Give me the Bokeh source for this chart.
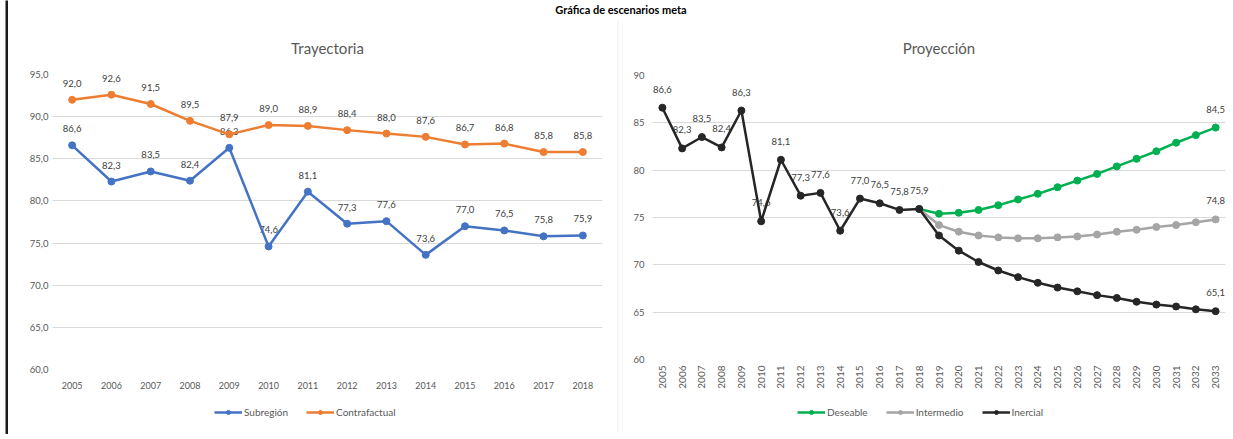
import math
from bokeh.plotting import figure
from bokeh.models import Range1d, FactorRange, FixedTicker, Legend, LegendItem, ColumnDataSource
from bokeh.layouts import column, row
from bokeh.embed import file_html
from bokeh.resources import INLINE
from bokeh.core.properties import value

# ---------------- data ----------------
years_hist = [str(y) for y in range(2005, 2019)]
subregion = [86.6, 82.3, 83.5, 82.4, 86.3, 74.6, 81.1, 77.3, 77.6, 73.6, 77.0, 76.5, 75.8, 75.9]
contrafactual = [92.0, 92.6, 91.5, 89.5, 87.9, 89.0, 88.9, 88.4, 88.0, 87.6, 86.7, 86.8, 85.8, 85.8]

years_all = [str(y) for y in range(2005, 2034)]
inercial = [86.6, 82.3, 83.5, 82.4, 86.3, 74.6, 81.1, 77.3, 77.6, 73.6, 77.0, 76.5, 75.8, 75.9,
            73.1, 71.5, 70.3, 69.4, 68.7, 68.1, 67.6, 67.2, 66.8, 66.5, 66.1, 65.8, 65.6, 65.3, 65.1]
years_proj = [str(y) for y in range(2018, 2034)]
deseable = [75.9, 75.4, 75.5, 75.8, 76.3, 76.9, 77.5, 78.2, 78.9, 79.6, 80.4, 81.2, 82.0, 82.9, 83.7, 84.5]
intermedio = [75.9, 74.2, 73.5, 73.1, 72.9, 72.8, 72.8, 72.9, 73.0, 73.2, 73.5, 73.7, 74.0, 74.2, 74.5, 74.8]

left_ticks = [60, 65, 70, 75, 80, 85, 90, 95]
right_ticks = [60, 65, 70, 75, 80, 85, 90]

title_main = "Gráfica de escenarios meta"
title_left = "Trayectoria"
title_right = "Proyección"

FONT = "Lato"
BLUE = "#4472C4"
ORANGE = "#ED7D31"
GREEN = "#00B050"
GREY = "#A5A5A5"
BLACK = "#262626"
TXT = "#595959"
LBL = "#404040"
FRAME_GREY = "#d9d9d9"


def fmt(v):
    return f"{v:.1f}".replace(".", ",")


def blank(width, height, **kw):
    f = figure(width=width, height=height, x_range=Range1d(0, 1), y_range=Range1d(0, 1),
               output_backend="svg", toolbar_location=None, x_axis_location=None,
               y_axis_location=None, min_border=0, **kw)
    f.grid.grid_line_color = None
    f.outline_line_color = None
    return f


def style(p, ticks, labels, standoff, tick_size="9px"):
    p.outline_line_color = None
    p.xgrid.grid_line_color = None
    p.ygrid.grid_line_color = FRAME_GREY
    p.ygrid.grid_line_width = 1
    p.yaxis.ticker = FixedTicker(ticks=ticks)
    p.yaxis.major_label_overrides = {t: l for t, l in zip(ticks, labels)}
    for ax in (p.xaxis[0], p.yaxis[0]):
        ax.axis_line_color = None
        ax.major_tick_line_color = None
        ax.minor_tick_line_color = None
        ax.major_tick_out = 0
        ax.major_tick_in = 0
        ax.major_label_text_font = FONT
        ax.major_label_text_color = TXT
    p.yaxis.major_label_text_font_size = "9.5px"
    p.xaxis.major_label_text_font_size = tick_size
    p.title.text_font = FONT
    p.title.text_font_size = "15px"
    p.title.text_font_style = "normal"
    p.title.text_color = TXT
    p.title.align = "center"
    p.title.vertical_align = "middle"
    p.title.standoff = standoff


def legend_fig(width, factors, specs, loc):
    # the legend lives in its own strip; the series are re-plotted far outside its view
    f = figure(width=width, height=37, x_range=FactorRange(*factors), y_range=Range1d(1000, 1001),
               output_backend="svg", toolbar_location=None, min_border=0,
               x_axis_location=None, y_axis_location=None)
    f.grid.grid_line_color = None
    f.outline_line_color = None
    items = []
    for label, color, src in specs:
        rl = f.line("x", "y", source=src, line_color=color, line_width=2.5)
        rs = f.scatter("x", "y", source=src, size=7, fill_color=color, line_color=color)
        items.append(LegendItem(label=label, renderers=[rl, rs]))
    leg = Legend(items=items, orientation="horizontal", location=loc, label_text_font=FONT,
                 label_text_font_size="10px", label_text_color=TXT, glyph_width=28, glyph_height=10,
                 spacing=18, padding=0, border_line_color=None, background_fill_alpha=0,
                 label_standoff=2)
    f.add_layout(leg)
    return f


# ---------------- frame pieces ----------------
black_bar = blank(8, 434, min_border_left=5, background_fill_color="#1a1a1a", border_fill_color="white")
sep = blank(6, 412, min_border_left=1, min_border_right=1, background_fill_color="white",
            border_fill_color=FRAME_GREY)
grey_top = blank(1225, 3, background_fill_color=FRAME_GREY, border_fill_color=FRAME_GREY)
grey_bottom = blank(1225, 2, background_fill_color=FRAME_GREY, border_fill_color=FRAME_GREY)

# ---------------- top strip ----------------
top = blank(1225, 17)
top.text(x=[0.5], y=[0.5], text=[title_main], text_align="center", text_baseline="middle",
         text_font=value(FONT), text_font_style="bold", text_font_size="11px", text_color="#000000")

# ---------------- left chart ----------------
left = figure(width=609, height=375, x_range=FactorRange(*years_hist, range_padding=0),
              y_range=Range1d(60, 95), output_backend="svg", toolbar_location=None,
              min_border_left=44, min_border_right=15, min_border_top=52, min_border_bottom=26,
              title=title_left)
style(left, left_ticks, [fmt(t) for t in left_ticks], 34)
left.xaxis.major_label_standoff = 12
left.yaxis.major_label_standoff = 4

src_s = ColumnDataSource(dict(x=years_hist, y=subregion, t=[fmt(v) for v in subregion]))
src_c = ColumnDataSource(dict(x=years_hist, y=contrafactual, t=[fmt(v) for v in contrafactual]))
for src in (src_s, src_c):
    left.text("x", "y", text="t", source=src, y_offset=-13, text_align="center", text_baseline="bottom",
              text_font=value(FONT), text_font_size="9.5px", text_color=LBL)
left.line("x", "y", source=src_s, line_color=BLUE, line_width=2.5)
left.scatter("x", "y", source=src_s, size=7, fill_color=BLUE, line_color=BLUE)
left.line("x", "y", source=src_c, line_color=ORANGE, line_width=2.5)
left.scatter("x", "y", source=src_c, size=7, fill_color=ORANGE, line_color=ORANGE)

leg_left = legend_fig(609, years_hist, [("Subregión", BLUE, src_s), ("Contrafactual", ORANGE, src_c)],
                      (162, 14))

# ---------------- right chart ----------------
right = figure(width=610, height=375, x_range=FactorRange(*years_all, range_padding=0),
               y_range=Range1d(60, 90), output_backend="svg", toolbar_location=None,
               min_border_left=29, min_border_right=8, min_border_top=53, min_border_bottom=36,
               title=title_right)
style(right, right_ticks, [str(t) for t in right_ticks], 35, tick_size="10px")
right.xaxis.major_label_orientation = math.pi / 2
right.xaxis.major_label_standoff = 6
right.yaxis.major_label_standoff = 8

src_d = ColumnDataSource(dict(x=years_proj, y=deseable))
src_m = ColumnDataSource(dict(x=years_proj, y=intermedio))
src_i = ColumnDataSource(dict(x=years_all, y=inercial))

lab_x = years_hist + [years_all[-1], years_proj[-1], years_proj[-1]]
lab_y = inercial[:len(years_hist)] + [inercial[-1], deseable[-1], intermedio[-1]]
src_lab = ColumnDataSource(dict(x=lab_x, y=lab_y, t=[fmt(v) for v in lab_y]))
right.text("x", "y", text="t", source=src_lab, y_offset=-15, text_align="center", text_baseline="bottom",
           text_font=value(FONT), text_font_size="9.5px", text_color=LBL)

right.line("x", "y", source=src_d, line_color=GREEN, line_width=2.5)
right.scatter("x", "y", source=src_d, size=7, fill_color=GREEN, line_color=GREEN)
right.line("x", "y", source=src_m, line_color=GREY, line_width=2.5)
right.scatter("x", "y", source=src_m, size=7, fill_color=GREY, line_color=GREY)
right.line("x", "y", source=src_i, line_color=BLACK, line_width=2.5)
right.scatter("x", "y", source=src_i, size=7, fill_color=BLACK, line_color=BLACK)

leg_right = legend_fig(610, years_all, [("Deseable", GREEN, src_d), ("Intermedio", GREY, src_m),
                                        ("Inercial", BLACK, src_i)], (145, 14))

panels = row(column(left, leg_left), sep, column(right, leg_right))
layout = row(black_bar, column(top, grey_top, panels, grey_bottom))
open("out.html", "w").write(file_html(layout, INLINE))
